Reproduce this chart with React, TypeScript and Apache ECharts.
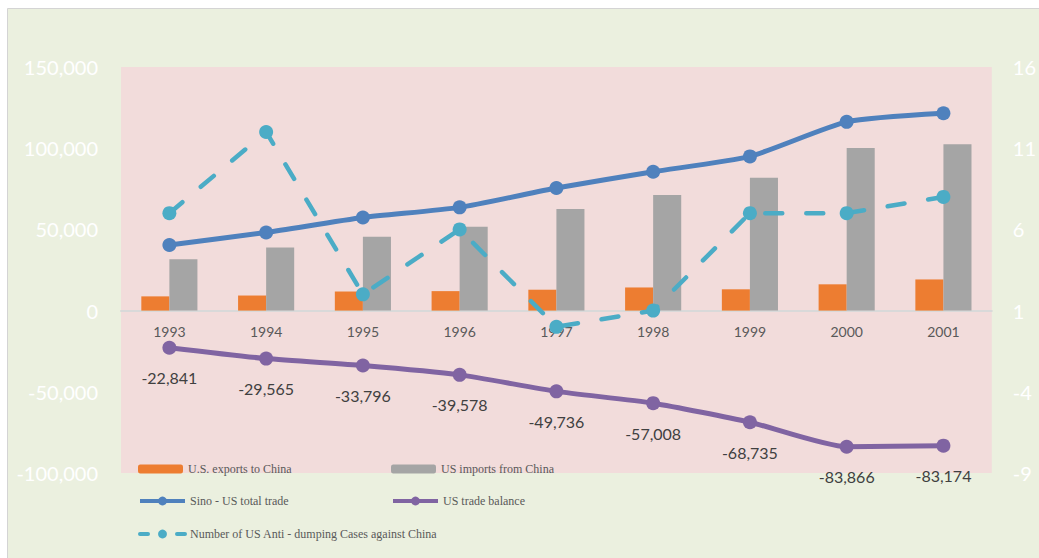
import React, { useEffect, useRef } from 'react';
import * as echarts from 'echarts';

const years = ['1993', '1994', '1995', '1996', '1997', '1998', '1999', '2000', '2001'];
const usExports = [8763, 9282, 11754, 11993, 12862, 14241, 13111, 16185, 19182];
const usImports = [31604, 38847, 45550, 51571, 62598, 71249, 81846, 100051, 102356];
const totalTrade = [40367, 48129, 57304, 63564, 75460, 85490, 94957, 116236, 121538];
const tradeBalance = [-22841, -29565, -33796, -39578, -49736, -57008, -68735, -83866, -83174];
const antiDumping = [7, 12, 2, 6, 0, 1, 7, 7, 8];

const leftMin = -100000;
const leftMax = 150000;
const leftStep = 50000;
const rightMin = -9;
const rightMax = 16;
const rightStep = 5;

const names = {
  exp: 'U.S. exports to China',
  imp: 'US imports from China',
  total: 'Sino - US total trade',
  bal: 'US trade balance',
  anti: 'Number of US Anti - dumping Cases against China',
};

const fmt = (v: number) => v.toLocaleString('en-US');

export default function App() {
  const ref = useRef<HTMLDivElement>(null);
  useEffect(() => {
    if (!ref.current) return;
    const chart = echarts.init(ref.current, undefined, { renderer: 'svg' });
    const gridTop = 67;
    const gridHeight = 406;
    // pixel offset that brings the category axis from the grid bottom up to value 0
    const zeroFrac = (0 - leftMin) / (leftMax - leftMin);
    const axisOffset = -Math.round(gridHeight * zeroFrac);
    const legendText = { color: '#595959', fontFamily: 'Liberation Serif', fontSize: 12 };
    const mkLegend = (name: string, left: number, top: number, h: number, lineStyle?: any) => ({
      left,
      top,
      data: [name],
      itemWidth: 45,
      itemHeight: h,
      itemGap: 4,
      padding: 0,
      selectedMode: false,
      textStyle: legendText,
      ...(lineStyle ? { lineStyle } : {}),
    });
    chart.setOption({
      animation: false,
      backgroundColor: 'transparent',
      graphic: [
        {
          type: 'rect',
          x: 7.5,
          y: 8.5,
          shape: { width: 1040, height: 560 },
          style: { fill: '#EBF0DF', stroke: '#D4D4D4', lineWidth: 1 },
          z: -100,
          silent: true,
        },
      ],
      grid: {
        left: 121,
        top: gridTop,
        width: 871,
        height: gridHeight,
        show: true,
        backgroundColor: '#F2DCDB',
        borderWidth: 0,
        containLabel: false,
      },
      legend: [
        mkLegend(names.exp, 138, 463, 9),
        mkLegend(names.imp, 391, 463, 9),
        mkLegend(names.total, 138, 495, 11, { width: 4 }),
        mkLegend(names.bal, 391, 495, 11, { width: 4 }),
        mkLegend(names.anti, 138, 528, 11, { width: 4, type: [8, 29], cap: 'round' }),
      ],
      xAxis: {
        type: 'category',
        data: years,
        position: 'bottom',
        offset: axisOffset,
        axisLine: { onZero: false, lineStyle: { color: '#D9D9D9', width: 2 } },
        axisTick: { show: false },
        axisLabel: { color: '#595959', fontSize: 14, fontFamily: 'Lato', margin: 13 },
      },
      yAxis: [
        {
          type: 'value',
          min: leftMin,
          max: leftMax,
          interval: leftStep,
          splitLine: { show: false },
          axisLine: { show: false },
          axisTick: { show: false },
          axisLabel: { color: '#FFFFFF', fontSize: 20, fontFamily: 'Lato', margin: 23, formatter: (v: number) => fmt(v) },
        },
        {
          type: 'value',
          position: 'right',
          min: rightMin,
          max: rightMax,
          interval: rightStep,
          splitLine: { show: false },
          axisLine: { show: false },
          axisTick: { show: false },
          axisLabel: { color: '#FFFFFF', fontSize: 20, fontFamily: 'Lato', margin: 21 },
        },
      ],
      series: [
        {
          name: names.exp,
          type: 'bar',
          data: usExports,
          itemStyle: { color: '#ED7D31' },
          barGap: '0%',
          barCategoryGap: '42%',
        },
        {
          name: names.imp,
          type: 'bar',
          data: usImports,
          itemStyle: { color: '#A5A5A5' },
          barGap: '0%',
          barCategoryGap: '42%',
        },
        {
          name: names.total,
          type: 'line',
          data: totalTrade,
          smooth: 0.2,
          symbol: 'circle',
          symbolSize: 14,
          itemStyle: { color: '#4F81BD' },
          lineStyle: { color: '#4F81BD', width: 5 },
          z: 3,
        },
        {
          name: names.bal,
          type: 'line',
          data: tradeBalance,
          smooth: 0.2,
          symbol: 'circle',
          symbolSize: 14,
          itemStyle: { color: '#8064A2' },
          lineStyle: { color: '#8064A2', width: 5 },
          label: {
            show: true,
            position: 'bottom',
            distance: 15,
            color: '#404040',
            fontSize: 16,
            fontFamily: 'Lato',
            formatter: (p: any) => fmt(p.value),
          },
          z: 3,
        },
        {
          name: names.anti,
          type: 'line',
          yAxisIndex: 1,
          data: antiDumping,
          symbol: 'circle',
          symbolSize: 14,
          itemStyle: { color: '#4BACC6' },
          lineStyle: { color: '#4BACC6', width: 4.5, type: [17, 24], cap: 'round' },
          z: 4,
        },
      ],
    });
    return () => chart.dispose();
  }, []);
  return (
    <div style={{ position: 'absolute', left: 0, top: 0, width: 1039, height: 558, background: '#FFFFFF', overflow: 'hidden' }}>
      <div ref={ref} style={{ width: 1039, height: 558 }} />
    </div>
  );
}
